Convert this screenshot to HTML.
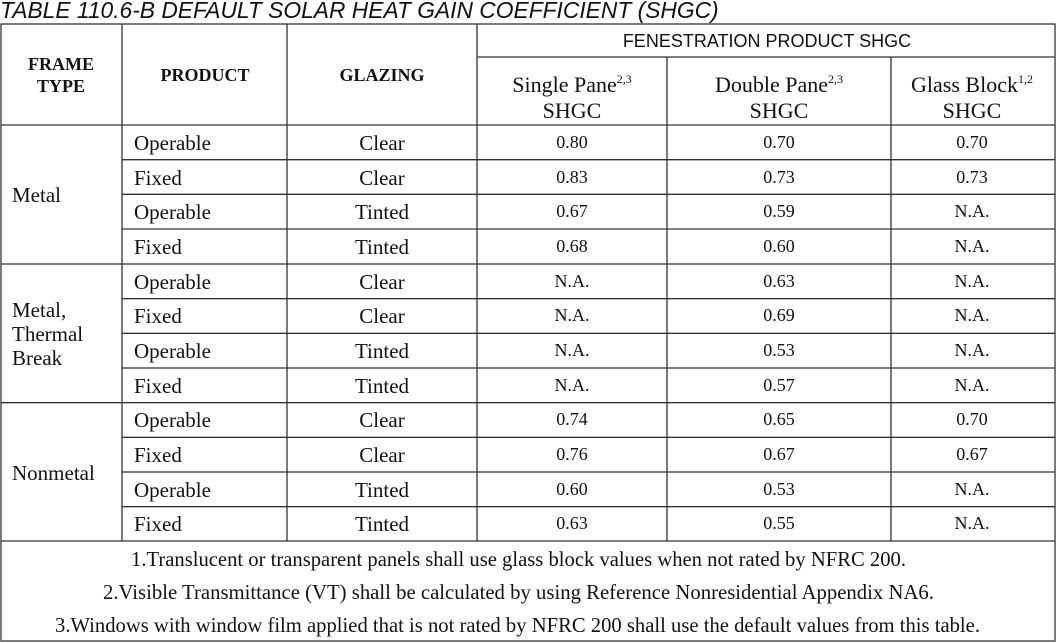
<!DOCTYPE html>
<html><head><meta charset="utf-8"><style>
body{margin:0;background:#fff}
svg{display:block}
.s{font-family:"Liberation Serif",serif;font-size:21px;fill:#111}
.n{font-family:"Liberation Serif",serif;font-size:18px;fill:#111}
.b{font-family:"Liberation Serif",serif;font-size:18px;font-weight:bold;fill:#111}
.f{font-family:"Liberation Serif",serif;font-size:20.7px;fill:#111}
</style></head><body>
<svg width="1057" height="643" xmlns="http://www.w3.org/2000/svg">
<text x="0" y="18" font-family="Liberation Sans,sans-serif" font-style="italic" font-size="22.8" fill="#111">TABLE 110.6-B DEFAULT SOLAR HEAT GAIN COEFFICIENT (SHGC)</text>
<g stroke="#333" stroke-width="1.3" fill="none">
<rect x="1" y="24" width="1054" height="617"/>
<line x1="122" y1="24" x2="122" y2="541"/>
<line x1="287" y1="24" x2="287" y2="541"/>
<line x1="477" y1="24" x2="477" y2="541"/>
<line x1="667" y1="57" x2="667" y2="541"/>
<line x1="891" y1="57" x2="891" y2="541"/>
<line x1="477" y1="57" x2="1055" y2="57"/>
<line x1="1" y1="125" x2="1055" y2="125"/>
<line x1="1" y1="541" x2="1055" y2="541"/>
<line x1="1" y1="264" x2="1055" y2="264"/>
<line x1="1" y1="402.7" x2="1055" y2="402.7"/>
<line x1="122" y1="159.7" x2="1055" y2="159.7"/>
<line x1="122" y1="194.3" x2="1055" y2="194.3"/>
<line x1="122" y1="229" x2="1055" y2="229"/>
<line x1="122" y1="298.7" x2="1055" y2="298.7"/>
<line x1="122" y1="333.3" x2="1055" y2="333.3"/>
<line x1="122" y1="368" x2="1055" y2="368"/>
<line x1="122" y1="437.3" x2="1055" y2="437.3"/>
<line x1="122" y1="472" x2="1055" y2="472"/>
<line x1="122" y1="506.7" x2="1055" y2="506.7"/>
</g>
<g class="b" text-anchor="middle">
<text x="61" y="70">FRAME</text><text x="61" y="92">TYPE</text>
<text x="205" y="81">PRODUCT</text>
<text x="382" y="81">GLAZING</text>
</g>
<text x="767" y="47" text-anchor="middle" font-family="Liberation Sans,sans-serif" font-size="18" fill="#111">FENESTRATION PRODUCT SHGC</text>
<g class="s" text-anchor="middle" style="font-size:22px">
<text x="572" y="92">Single Pane<tspan font-size="12" dy="-9">2,3</tspan></text><text x="572" y="118">SHGC</text>
<text x="779" y="92">Double Pane<tspan font-size="12" dy="-9">2,3</tspan></text><text x="779" y="118">SHGC</text>
<text x="972" y="92">Glass Block<tspan font-size="12" dy="-9">1,2</tspan></text><text x="972" y="118">SHGC</text>
</g>
<g class="s">
<text x="12" y="202">Metal</text>
<text x="12" y="317">Metal,</text><text x="12" y="341">Thermal</text><text x="12" y="365">Break</text>
<text x="12" y="480">Nonmetal</text>
</g>
<g class="f">
<text x="131" y="566" textLength="775" lengthAdjust="spacingAndGlyphs">1.Translucent or transparent panels shall use glass block values when not rated by NFRC 200.</text>
<text x="103" y="599" textLength="831" lengthAdjust="spacingAndGlyphs">2.Visible Transmittance (VT) shall be calculated by using Reference Nonresidential Appendix NA6.</text>
<text x="55" y="632" textLength="925" lengthAdjust="spacingAndGlyphs">3.Windows with window film applied that is not rated by NFRC 200 shall use the default values from this table.</text>
</g>
<g class="s">
<text x="134" y="150">Operable</text><text x="134" y="185">Fixed</text><text x="134" y="219">Operable</text><text x="134" y="254">Fixed</text>
<text x="134" y="289">Operable</text><text x="134" y="323">Fixed</text><text x="134" y="358">Operable</text><text x="134" y="393">Fixed</text>
<text x="134" y="427">Operable</text><text x="134" y="462">Fixed</text><text x="134" y="497">Operable</text><text x="134" y="531">Fixed</text>
</g>
<g class="s" text-anchor="middle">
<text x="382" y="150">Clear</text><text x="382" y="185">Clear</text><text x="382" y="219">Tinted</text><text x="382" y="254">Tinted</text>
<text x="382" y="289">Clear</text><text x="382" y="323">Clear</text><text x="382" y="358">Tinted</text><text x="382" y="393">Tinted</text>
<text x="382" y="427">Clear</text><text x="382" y="462">Clear</text><text x="382" y="497">Tinted</text><text x="382" y="531">Tinted</text>
</g>
<g class="n" text-anchor="middle">
<text x="572" y="148">0.80</text><text x="572" y="183">0.83</text><text x="572" y="217">0.67</text><text x="572" y="252">0.68</text>
<text x="572" y="287">N.A.</text><text x="572" y="321">N.A.</text><text x="572" y="356">N.A.</text><text x="572" y="391">N.A.</text>
<text x="572" y="425">0.74</text><text x="572" y="460">0.76</text><text x="572" y="495">0.60</text><text x="572" y="529">0.63</text>
<text x="779" y="148">0.70</text><text x="779" y="183">0.73</text><text x="779" y="217">0.59</text><text x="779" y="252">0.60</text>
<text x="779" y="287">0.63</text><text x="779" y="321">0.69</text><text x="779" y="356">0.53</text><text x="779" y="391">0.57</text>
<text x="779" y="425">0.65</text><text x="779" y="460">0.67</text><text x="779" y="495">0.53</text><text x="779" y="529">0.55</text>
<text x="972" y="148">0.70</text><text x="972" y="183">0.73</text><text x="972" y="217">N.A.</text><text x="972" y="252">N.A.</text>
<text x="972" y="287">N.A.</text><text x="972" y="321">N.A.</text><text x="972" y="356">N.A.</text><text x="972" y="391">N.A.</text>
<text x="972" y="425">0.70</text><text x="972" y="460">0.67</text><text x="972" y="495">N.A.</text><text x="972" y="529">N.A.</text>
</g>
</svg>
</body></html>
